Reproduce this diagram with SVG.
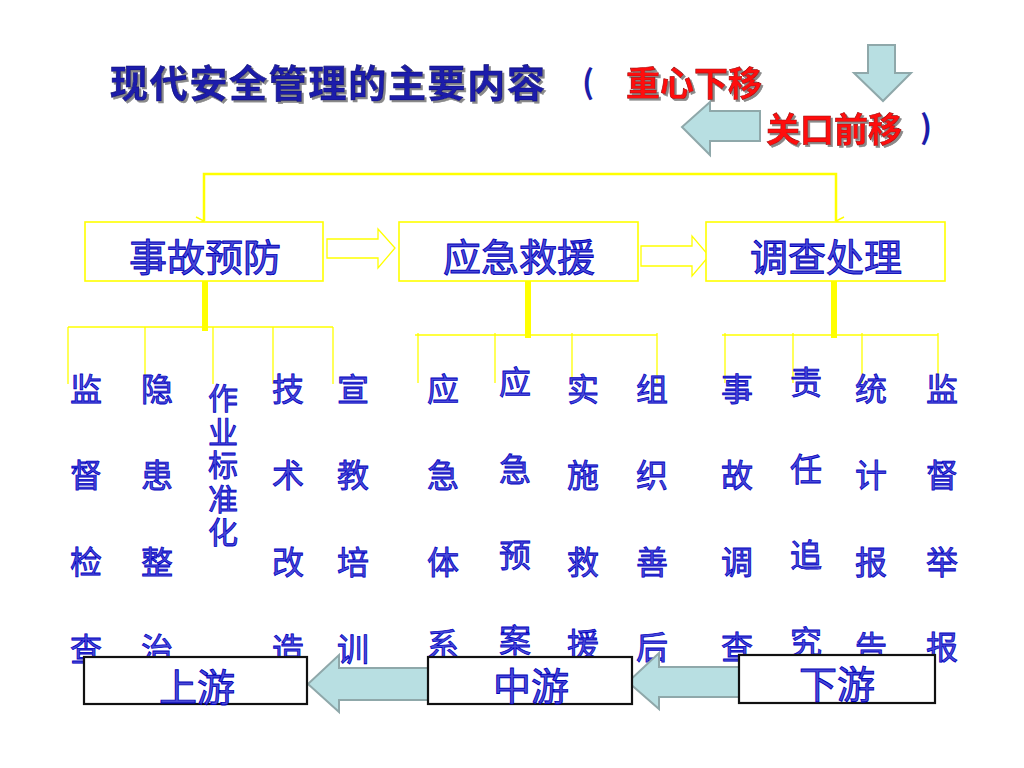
<svg xmlns="http://www.w3.org/2000/svg" width="1024" height="768" viewBox="0 0 1024 768">
<defs>
<filter id="sh" x="-5%" y="-20%" width="110%" height="140%"><feDropShadow dx="2" dy="2" stdDeviation="0.6" flood-color="#8a8a8a"/></filter>
<marker id="ah" markerWidth="10" markerHeight="10" refX="5" refY="9" orient="auto" markerUnits="userSpaceOnUse"><path d="M1,1 L5,9 L9,1" fill="none" stroke="#ffff00" stroke-width="1.5"/></marker>
</defs>
<style>
text{font-family:"Noto Sans CJK SC","Noto Sans CJK TC",sans-serif;dominant-baseline:central}
.title{font-size:38px;font-weight:bold;fill:#1c1caa;stroke:#0a0a70;stroke-width:0.6;letter-spacing:1.7px}
.red{font-size:34px;font-weight:bold;fill:#ff1010;stroke:#900;stroke-width:0.6}
.paren{font-size:32px;font-weight:bold;fill:#1c1caa}
.lab{font-size:38px;fill:#4a4ad8;stroke:#0000b8;stroke-width:0.9;text-anchor:middle}
.ch{font-size:32px;fill:#4a4ad8;stroke:#0000c0;stroke-width:0.8;text-anchor:middle}
.vert{font-size:30px;fill:#4a4ad8;stroke:#0000c0;stroke-width:0.8;writing-mode:vertical-rl;letter-spacing:3.5px;text-anchor:start}
.ybox{fill:#fff;stroke:#ffff00;stroke-width:1.6}
.bbox{fill:#fff;stroke:#111;stroke-width:2.2}
.yl{stroke:#ffff00;stroke-width:1.3;fill:none}
.yt{stroke:#ffff00;stroke-width:6;fill:none}
.harr{fill:#fff;stroke:#ffff00;stroke-width:1.3}
.barr{fill:#b8dfe2;stroke:#8fa8aa;stroke-width:2}
</style>

<g id="title">
<text class="title" x="110" y="80" filter="url(#sh)">现代安全管理的主要内容</text>
<text class="paren" x="582" y="80">(</text>
<text class="red" x="626" y="81" filter="url(#sh)">重心下移</text>
<text class="red" x="766" y="127" filter="url(#sh)">关口前移</text>
<text class="paren" x="920" y="125">)</text>
</g>

<g id="shift-arrows">
<path class="barr" d="M868,45 L895,45 L895,73 L911,73 L883,101 L854,73 L868,73 Z"/>
<path class="barr" d="M760,111 L710,111 L710,102 L682,127 L710,155 L710,141 L760,141 Z"/>
</g>

<g id="connectors">
<polyline class="yl" points="204,221 204,174 836,174 836,221" marker-start="url(#ah)" marker-end="url(#ah)" style="stroke-width:2.5"/>
<path class="harr" d="M327,239 L378,239 L378,229 L395,248 L378,268 L378,258 L327,258 Z"/>
<path class="harr" d="M641,246 L692,246 L692,236 L709,256 L692,276 L692,266 L641,266 Z"/>
<line class="yt" x1="205" y1="281" x2="205" y2="331"/>
<line class="yl" x1="68" y1="327" x2="333" y2="327"/>
<line class="yl" x1="68" y1="327" x2="68" y2="384"/>
<line class="yl" x1="145" y1="327" x2="145" y2="384"/>
<line class="yl" x1="213" y1="327" x2="213" y2="384"/>
<line class="yl" x1="273" y1="327" x2="273" y2="384"/>
<line class="yl" x1="333" y1="327" x2="333" y2="384"/>
<line class="yt" x1="528" y1="281" x2="528" y2="338"/>
<line class="yl" x1="415" y1="335" x2="657" y2="335"/>
<line class="yl" x1="418" y1="333" x2="418" y2="383"/>
<line class="yl" x1="495" y1="333" x2="495" y2="383"/>
<line class="yl" x1="572" y1="333" x2="572" y2="382"/>
<line class="yl" x1="657" y1="333" x2="657" y2="383"/>
<line class="yt" x1="834" y1="281" x2="834" y2="338"/>
<line class="yl" x1="722" y1="335" x2="938" y2="335"/>
<line class="yl" x1="725" y1="333" x2="725" y2="383"/>
<line class="yl" x1="793" y1="333" x2="793" y2="383"/>
<line class="yl" x1="862" y1="333" x2="862" y2="383"/>
<line class="yl" x1="938" y1="333" x2="938" y2="383"/>
</g>

<g id="node-prevent"><rect class="ybox" x="85" y="222" width="238" height="59"/><text class="lab" x="205" y="254">事故预防</text></g>
<g id="node-rescue"><rect class="ybox" x="399" y="222" width="239" height="59"/><text class="lab" x="519" y="254">应急救援</text></g>
<g id="node-investigate"><rect class="ybox" x="706" y="222" width="239" height="59"/><text class="lab" x="826" y="254">调查处理</text></g>

<g id="items-prevent">
<text class="ch" x="86"><tspan x="86" y="387">监</tspan><tspan x="86" y="473">督</tspan><tspan x="86" y="560">检</tspan><tspan x="86" y="647">查</tspan></text>
<text class="ch" x="157"><tspan x="157" y="387">隐</tspan><tspan x="157" y="473">患</tspan><tspan x="157" y="560">整</tspan><tspan x="157" y="647">治</tspan></text>
<text class="vert" x="223" y="383">作业标准化</text>
<text class="ch" x="288"><tspan x="288" y="387">技</tspan><tspan x="288" y="473">术</tspan><tspan x="288" y="560">改</tspan><tspan x="288" y="647">造</tspan></text>
<text class="ch" x="353"><tspan x="353" y="387">宣</tspan><tspan x="353" y="473">教</tspan><tspan x="353" y="560">培</tspan><tspan x="353" y="647">训</tspan></text>
</g>

<g id="items-rescue">
<text class="ch" x="443"><tspan x="443" y="387">应</tspan><tspan x="443" y="473">急</tspan><tspan x="443" y="560">体</tspan><tspan x="443" y="642">系</tspan></text>
<text class="ch" x="515"><tspan x="515" y="380">应</tspan><tspan x="515" y="467">急</tspan><tspan x="515" y="553">预</tspan><tspan x="515" y="638">案</tspan></text>
<text class="ch" x="583"><tspan x="583" y="387">实</tspan><tspan x="583" y="473">施</tspan><tspan x="583" y="560">救</tspan><tspan x="583" y="642">援</tspan></text>
<text class="ch" x="652"><tspan x="652" y="387">组</tspan><tspan x="652" y="473">织</tspan><tspan x="652" y="560">善</tspan><tspan x="652" y="645">后</tspan></text>
</g>

<g id="items-investigate">
<text class="ch" x="737"><tspan x="737" y="387">事</tspan><tspan x="737" y="473">故</tspan><tspan x="737" y="560">调</tspan><tspan x="737" y="645">查</tspan></text>
<text class="ch" x="806"><tspan x="806" y="380">责</tspan><tspan x="806" y="467">任</tspan><tspan x="806" y="553">追</tspan><tspan x="806" y="640">究</tspan></text>
<text class="ch" x="871"><tspan x="871" y="387">统</tspan><tspan x="871" y="473">计</tspan><tspan x="871" y="560">报</tspan><tspan x="871" y="645">告</tspan></text>
<text class="ch" x="942"><tspan x="942" y="387">监</tspan><tspan x="942" y="473">督</tspan><tspan x="942" y="560">举</tspan><tspan x="942" y="645">报</tspan></text>
</g>

<g id="flow-arrows">
<path class="barr" d="M430,668 L339,668 L339,655 L308,684 L339,712 L339,700 L430,700 Z"/>
<path class="barr" d="M741,667 L659,667 L659,653 L628,682 L659,709 L659,697 L741,697 Z"/>
</g>

<g id="node-upstream"><rect class="bbox" x="84" y="657" width="223" height="47"/><text class="lab" x="197" y="684">上游</text></g>
<g id="node-midstream"><rect class="bbox" x="428" y="657" width="204" height="47"/><text class="lab" x="531" y="683">中游</text></g>
<g id="node-downstream"><rect class="bbox" x="739" y="655" width="196" height="48"/><text class="lab" x="837" y="681">下游</text></g>
</svg>
